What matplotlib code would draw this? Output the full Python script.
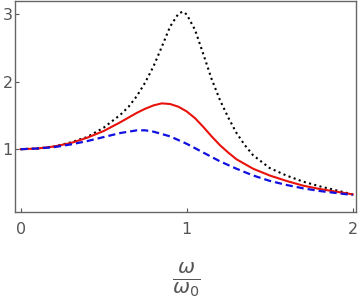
import matplotlib
matplotlib.use("Agg")
import matplotlib.pyplot as plt

# values (x = omega / omega_0)
x_black = [0, 0.1, 0.2, 0.3, 0.4, 0.5, 0.6, 0.65, 0.7, 0.75, 0.8, 0.85, 0.9, 0.95, 0.975,
           1.0, 1.05, 1.1, 1.15, 1.2, 1.25, 1.3, 1.35, 1.4, 1.5, 1.6, 1.7, 1.8, 1.9, 2.0]
y_black = [1.00, 1.01, 1.04, 1.10, 1.18, 1.32, 1.51, 1.63, 1.79, 1.99, 2.23, 2.52, 2.82, 3.01, 3.04,
           3.00, 2.77, 2.41, 2.04, 1.73, 1.47, 1.24, 1.06, 0.91, 0.72, 0.61, 0.52, 0.45, 0.39, 0.33]

x_red = [0, 0.1, 0.2, 0.3, 0.4, 0.5, 0.6, 0.65, 0.7, 0.75, 0.8, 0.85, 0.9, 0.95,
         1.0, 1.05, 1.1, 1.15, 1.2, 1.25, 1.3, 1.4, 1.5, 1.6, 1.7, 1.8, 1.9, 2.0]
y_red = [1.00, 1.01, 1.04, 1.09, 1.17, 1.27, 1.40, 1.47, 1.54, 1.60, 1.65, 1.68, 1.67, 1.63,
         1.56, 1.46, 1.33, 1.19, 1.06, 0.95, 0.85, 0.71, 0.61, 0.53, 0.46, 0.41, 0.37, 0.33]

x_blue = [0, 0.1, 0.2, 0.3, 0.4, 0.5, 0.6, 0.7, 0.75, 0.8, 0.9,
          1.0, 1.1, 1.2, 1.3, 1.4, 1.5, 1.6, 1.7, 1.8, 1.9, 2.0]
y_blue = [1.00, 1.01, 1.03, 1.07, 1.12, 1.18, 1.24, 1.28, 1.28, 1.26, 1.19,
          1.08, 0.95, 0.82, 0.71, 0.61, 0.53, 0.47, 0.42, 0.38, 0.35, 0.32]

xticks = [0, 1, 2]
yticks = [1, 2, 3]

gray = "#555555"

fig = plt.figure(figsize=(3.6, 2.99), dpi=100)
ax = fig.add_axes([0.041, 0.29, 0.948, 0.707])

ax.plot(x_black, y_black, color="black", lw=1.5, linestyle=(0, (1, 1.6)))
ax.plot(x_red, y_red, color="#e8120c", lw=1.5)
ax.plot(x_blue, y_blue, color="#1010e0", lw=1.6, linestyle=(0, (3.2, 1.8)))

ax.set_xlim(-0.036, 2.02)
ax.set_ylim(0.064, 3.20)
ax.set_xticks(xticks)
ax.set_yticks(yticks)
ax.tick_params(direction="in", length=3, width=0.8, color=gray, labelcolor=gray,
               labelsize=11.5)
ax.tick_params(axis="x", pad=7)
ax.tick_params(axis="y", pad=1.5)
for s in ax.spines.values():
    s.set_color("#666666")
    s.set_linewidth(1.0)

fig.text(186 / 360, 1 - 280 / 299, r"$\frac{\omega}{\omega_0}$", color=gray,
         fontsize=21, ha="center", va="center")

fig.savefig("out.png", dpi=100)
